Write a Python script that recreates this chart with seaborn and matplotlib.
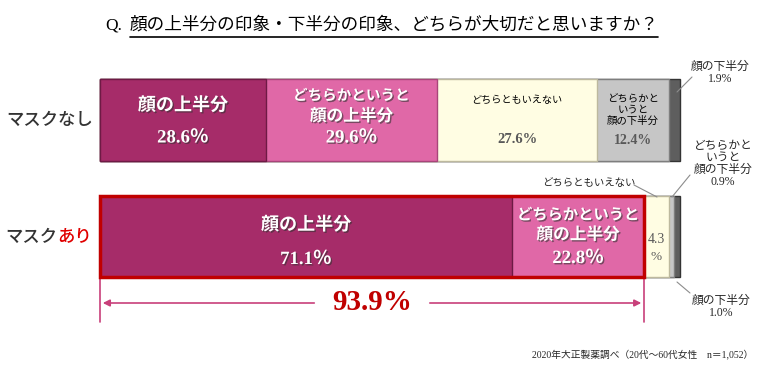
import numpy as np
import pandas as pd
import seaborn as sns
import matplotlib.pyplot as plt
import matplotlib.patheffects as pe
from matplotlib.patches import Rectangle

rows = ['マスクなし', 'マスクあり']
segments = ['顔の上半分', 'どちらかというと顔の上半分', 'どちらともいえない',
            'どちらかというと顔の下半分', '顔の下半分']
no_mask = [28.6, 29.6, 27.6, 12.4, 1.9]
with_mask = [71.1, 22.8, 4.3, 0.9, 1.0]
seg_colors = ['#A62C69', '#E068A7', '#FFFDE3', '#C6C6C6', '#5E5E5E']
edge_colors = ['#6E1A45', '#A8457A', '#BDB99E', '#7E7E7E', '#333333']

title = '顔の上半分の印象・下半分の印象、どちらが大切だと思いますか？'
source = '2020年大正製薬調べ（20代～60代女性　n＝1,052）'

sns.set_theme(style='white')
JP = ['Noto Sans CJK JP', 'DejaVu Sans']
NUM = ['Liberation Serif', 'Noto Sans CJK JP']
plt.rcParams['font.family'] = JP

df = pd.DataFrame({'row': np.repeat(rows, len(segments)),
                   'segment': segments * 2,
                   'value': no_mask + with_mask})
df['cum'] = df.groupby('row', sort=False)['value'].cumsum()

fig = plt.figure(figsize=(7.57, 3.74), dpi=100)
ax = fig.add_axes([0, 0, 1, 1])

# stacked bars: draw cumulative totals from the widest down
for i in reversed(range(len(segments))):
    sub = df[df['segment'] == segments[i]]
    sns.barplot(data=sub, x='cum', y='row', order=rows, orient='h',
                color=seg_colors[i], saturation=1, width=0.70,
                edgecolor=edge_colors[i], linewidth=1, ax=ax)

total = sum(no_mask)
sx = total / 580          # data units per pixel (bars span 580 px)
sy = 1 / 116.5            # row units per pixel
ax.set_xlim(-100 * sx, 657 * sx)
ax.set_ylim(254 * sy, -120 * sy)
ax.axis('off')


def fxy(x, y):
    # pixel position (from top-left) -> figure fraction
    return x / 757, 1 - y / 374


shadow = [pe.withSimplePatchShadow(offset=(1, -1), shadow_rgbFace='#333333', alpha=0.6)]

# title
fig.text(*fxy(105, 25), 'Q.', fontsize=12.5, ha='left', va='center', family=NUM, color='black')
fig.text(*fxy(130, 25), title, fontsize=12.7, ha='left', va='center', color='black')
fig.add_artist(plt.Line2D([130 / 757, 658 / 757], [1 - 37 / 374] * 2, color='black', lw=1.2))

# row labels
fig.text(*fxy(50, 120), rows[0], fontsize=12.5, ha='center', va='center', color='#333333', weight='medium')
fig.text(*fxy(57, 237), 'マスク', fontsize=12.5, ha='right', va='center', color='#333333', weight='medium')
fig.text(*fxy(57, 237), 'あり', fontsize=12.5, ha='left', va='center', color='#E00000', weight='medium')

# segment labels
c0 = np.cumsum(no_mask) - np.array(no_mask) / 2
c1 = np.cumsum(with_mask) - np.array(with_mask) / 2

ax.text(c0[0], -15 * sy, segments[0], fontsize=13, weight='bold', color='white', ha='center', va='center', path_effects=shadow)
ax.text(c0[0], 18 * sy, f'{no_mask[0]}％', fontsize=13.5, weight='bold', color='white', ha='center', va='center', family=NUM, path_effects=shadow)
ax.text(c0[1], -25 * sy, 'どちらかというと', fontsize=10.5, weight='bold', color='white', ha='center', va='center', path_effects=shadow)
ax.text(c0[1], -4 * sy, '顔の上半分', fontsize=12, weight='bold', color='white', ha='center', va='center', path_effects=shadow)
ax.text(c0[1], 18 * sy, f'{no_mask[1]}％', fontsize=13.5, weight='bold', color='white', ha='center', va='center', family=NUM, path_effects=shadow)
ax.text(c0[2], -20 * sy, segments[2], fontsize=7.3, color='black', ha='center', va='center')
ax.text(c0[2], 20 * sy, f'{no_mask[2]}%', fontsize=10.5, weight='bold', color='#595959', ha='center', va='center', family=NUM)
ax.text(c0[3], -10 * sy, 'どちらかと\nいうと\n顔の下半分', fontsize=7.5, color='black', ha='center', va='center', linespacing=1.05)
ax.text(c0[3], 21 * sy, f'{no_mask[3]}%', fontsize=10, weight='bold', color='#595959', ha='center', va='center', family=NUM)

ax.text(c1[0], 1 - 12 * sy, segments[0], fontsize=13, weight='bold', color='white', ha='center', va='center', path_effects=shadow)
ax.text(c1[0], 1 + 23 * sy, f'{with_mask[0]}％', fontsize=13.5, weight='bold', color='white', ha='center', va='center', family=NUM, path_effects=shadow)
ax.text(c1[1], 1 - 22 * sy, 'どちらかというと', fontsize=11, weight='bold', color='white', ha='center', va='center', path_effects=shadow)
ax.text(c1[1], 1 - 2 * sy, '顔の上半分', fontsize=12, weight='bold', color='white', ha='center', va='center', path_effects=shadow)
ax.text(c1[1], 1 + 22 * sy, f'{with_mask[1]}％', fontsize=13.5, weight='bold', color='white', ha='center', va='center', family=NUM, path_effects=shadow)
ax.text(c1[2], 1 + 3 * sy, f'{with_mask[2]}', fontsize=10, color='#595959', ha='center', va='center', family=NUM)
ax.text(c1[2], 1 + 21 * sy, '%', fontsize=9.5, color='#595959', ha='center', va='center', family=NUM)

# callouts outside the bars
lead = dict(color='#8C8C8C', lw=0.8)
fig.text(*fxy(720, 73), f'顔の下半分\n{no_mask[4]}%', fontsize=8.5, ha='center', va='center', linespacing=1.1, family=NUM)
fig.add_artist(plt.Line2D([692 / 757, 677 / 757], [1 - 77 / 374, 1 - 92 / 374], **lead))

fig.text(*fxy(589, 183), segments[2], fontsize=7.5, ha='center', va='center')
fig.add_artist(plt.Line2D([634 / 757, 657 / 757], [1 - 185 / 374, 1 - 197 / 374], **lead))

fig.text(*fxy(723, 164), f'どちらかと\nいうと\n顔の下半分\n{with_mask[3]}%', fontsize=8.5, ha='center', va='center', linespacing=1.0, family=NUM)
fig.add_artist(plt.Line2D([690 / 757, 672 / 757], [1 - 175 / 374, 1 - 197 / 374], **lead))

fig.text(*fxy(721, 307), f'顔の下半分\n{with_mask[4]}%', fontsize=8.5, ha='center', va='center', linespacing=1.1, family=NUM)
fig.add_artist(plt.Line2D([677 / 757, 690 / 757], [1 - 282 / 374, 1 - 293 / 374], **lead))

# red frame around the "upper half" answers with mask
top_two = with_mask[0] + with_mask[1]
ax.add_patch(Rectangle((0, 1 - 0.35), top_two, 0.70, fill=False, ec='#C00000', lw=2.5, zorder=5))

# bracket with arrows and total
br = '#C8407A'
ax.plot([0, 0], [1.35, 202 * sy], color=br, lw=1.2)
ax.plot([top_two, top_two], [1.35, 202 * sy], color=br, lw=1.2)
ay = 183 * sy
gap = 55 * sx
ax.annotate('', xy=(0, ay), xytext=(top_two / 2 - gap, ay),
            arrowprops=dict(arrowstyle='-|>', color=br, lw=1.2, mutation_scale=10))
ax.annotate('', xy=(top_two, ay), xytext=(top_two / 2 + gap, ay),
            arrowprops=dict(arrowstyle='-|>', color=br, lw=1.2, mutation_scale=10))
ax.text(top_two / 2, ay, f'{top_two:.1f}%', fontsize=21, weight='bold', color='#C00000',
        ha='center', va='center', family=NUM)

# source
fig.text(*fxy(753, 355), source, fontsize=7, ha='right', va='center', family=NUM)

fig.savefig('out.png', dpi=100)
